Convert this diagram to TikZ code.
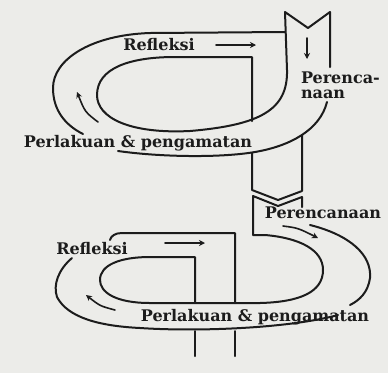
\documentclass[tikz,border=0pt]{standalone}
\usepackage{fontspec}
\setmainfont{DejaVu Serif}
\usetikzlibrary{arrows.meta}
\definecolor{paper}{RGB}{236,236,233}
\definecolor{ink}{RGB}{28,28,28}
\begin{document}
\begin{tikzpicture}[x=1pt,y=-1pt,
  line width=2pt, draw=ink, line cap=round, line join=round,
  lbl/.style={font=\fontsize{16}{15}\selectfont\bfseries, text=ink, inner sep=0pt},
  flow/.style={-{Stealth[length=6pt,width=6pt]}, line width=1.6pt}]
\fill[paper] (0,0) rectangle (388,373);
\useasboundingbox (0,0) rectangle (388,373);

\node[lbl] (refA) at (159,45) {Refleksi};
\node[lbl, anchor=north west, align=left] (perA) at (300,71) {Perenca-\\naan};
\node[lbl] (plkA) at (138,143) {Perlakuan \& pengamatan};
\node[lbl] (perB) at (323,213) {Perencanaan};
\node[lbl] (refB) at (92,249) {Refleksi};
\node[lbl] (plkB) at (255,317) {Perlakuan \& pengamatan};

\draw (330,67) -- (330,12) -- (308,28) -- (285,12) -- (287,70)
  .. controls (288,110) and (260,125) .. (190,131)
  .. controls (130,134) and (97,118) .. (97,95)
  .. controls (97,68) and (130,57) .. (175,57) -- (252,57) -- (252,121);
\draw (285,32) -- (150,33) .. controls (90,35) and (53,60) .. (53,88)
  .. controls (53,110) and (65,125) .. (83,134);
\draw (118,151) .. controls (160,157) and (220,158) .. (255,152)
  .. controls (290,146) and (320,130) .. (327,102);
\draw (252,153) -- (252,190) -- (278,200) -- (302,191) -- (302,135);

\draw (302,207) -- (302,197) -- (278,206) -- (253,196) -- (253,235) -- (265,235)
  .. controls (300,238) and (323,250) .. (323,270)
  .. controls (323,292) and (300,302) .. (260,303) -- (150,303)
  .. controls (115,303) and (100,292) .. (100,280)
  .. controls (100,265) and (120,257) .. (150,257) -- (195,257) -- (195,303);
\draw (235,303) -- (235,233) -- (122,233) .. controls (115,233) and (111,236) .. (110,240);
\draw (72,258) .. controls (58,270) and (53,285) .. (57,297)
  .. controls (68,318) and (100,326) .. (140,328)
  .. controls (200,332) and (290,328) .. (338,315);
\draw (310,225) .. controls (350,235) and (372,255) .. (370,278)
  .. controls (368,292) and (360,300) .. (350,305);
\draw (195,331) -- (195,356);
\draw (235,331) -- (235,356);

\draw[flow] (216,45) -- (256,45);
\draw[flow] (307,38) -- (307,59);
\draw[flow] (98,122) .. controls (85,112) .. (77,92);
\draw[flow] (165,243) -- (205,243);
\draw[flow] (283,226) .. controls (298,228) .. (318,238);
\draw[flow] (115,310) .. controls (100,306) .. (86,295);
\end{tikzpicture}
\end{document}
